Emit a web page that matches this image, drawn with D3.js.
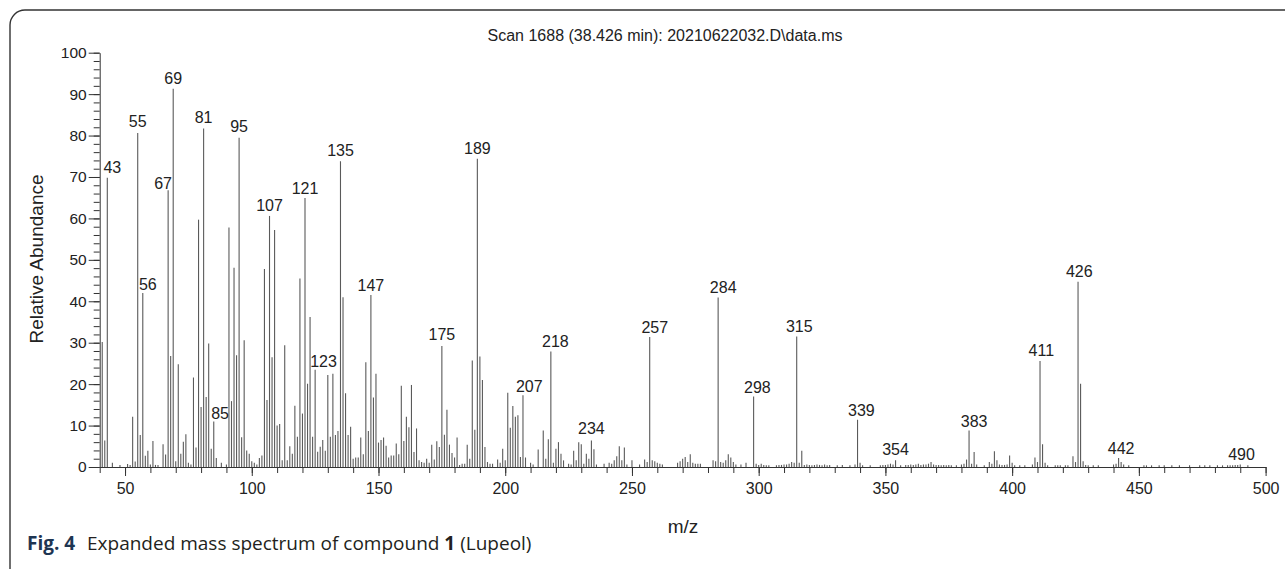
<!DOCTYPE html>
<html>
<head>
<meta charset="utf-8">
<script src="https://cdn.jsdelivr.net/npm/d3@7"></script>
<style>
  body { margin: 0; background: #fff; }
  svg { display: block; }
</style>
</head>
<body>
<script>
// m/z of every stick, grouped by 20 mass units
const mz = [
  41, 42, 43, 45, 48, 51, 52, 53, 54, 55, 56, 57, 58, 59,
  60, 61, 62, 63, 65, 66, 67, 68, 69, 70, 71, 72, 73, 74, 75, 76, 77, 78, 79,
  80, 81, 82, 83, 84, 85, 86, 88, 90, 91, 92, 93, 94, 95, 96, 97, 98, 99,
  100, 101, 102, 103, 104, 105, 106, 107, 108, 109, 110, 111, 112, 113, 114, 115, 116, 117, 118, 119,
  120, 121, 122, 123, 124, 125, 126, 127, 128, 129, 130, 131, 132, 133, 134, 135, 136, 137, 138, 139,
  140, 141, 142, 143, 144, 145, 146, 147, 148, 149, 150, 151, 152, 153, 154, 155, 156, 157, 158, 159,
  160, 161, 162, 163, 164, 165, 166, 167, 168, 169, 170, 171, 172, 173, 174, 175, 176, 177, 178, 179,
  180, 181, 182, 183, 184, 185, 186, 187, 188, 189, 190, 191, 192, 193, 194, 195, 197, 198, 199,
  200, 201, 202, 203, 204, 205, 206, 207, 208, 210, 211, 213, 215, 216, 217, 218, 219,
  220, 221, 222, 223, 225, 226, 227, 228, 229, 230, 231, 232, 233, 234, 235, 236, 239,
  241, 242, 243, 244, 245, 246, 247, 248, 250, 253, 255, 256, 257, 258, 259,
  260, 261, 262, 268, 269, 270, 271, 272, 273, 274, 275, 276, 277,
  282, 283, 284, 285, 286, 287, 288, 289, 290, 291, 293, 295, 298, 299,
  300, 301, 302, 303, 304, 307, 308, 309, 310, 311, 312, 313, 314, 315, 316, 317, 318, 319,
  320, 321, 322, 323, 324, 325, 326, 327, 328, 331, 333, 336, 338, 339,
  340, 341, 344, 348, 349, 350, 351, 352, 353, 354, 356, 358, 359,
  360, 361, 362, 363, 364, 365, 366, 367, 368, 369, 370, 371, 372, 373, 374, 375, 376, 378,
  380, 381, 382, 383, 384, 385, 386, 389, 391, 392, 393, 394, 395, 396, 397, 398, 399,
  400, 401, 403, 405, 408, 409, 410, 411, 412, 413, 414, 417, 418, 419,
  421, 422, 424, 425, 426, 427, 428, 429, 430, 432, 434,
  440, 441, 442, 443, 444, 446, 452, 453, 455, 458,
  460, 463, 466, 470, 474, 476, 478,
  481, 483, 485, 486, 487, 488, 489, 490, 493
];

// relative abundance (%), same order as mz
const abundance = [
  30.2, 6.4, 69.8, 1.0, 0.5, 0.7, 0.5, 12.1, 1.3, 80.6, 7.7, 42.0, 2.7, 3.9,
  0.6, 6.3, 0.5, 0.5, 5.5, 3.0, 66.8, 26.8, 91.3, 1.4, 24.8, 3.2, 6.1, 7.9, 1.0, 0.6, 21.6, 4.7, 59.7,
  14.5, 81.7, 16.9, 29.8, 4.4, 11.0, 2.2, 1.0, 0.6, 57.8, 15.9, 48.1, 27.0, 79.5, 7.2, 30.6, 4.0, 3.2,
  1.4, 1.0, 0.6, 2.2, 2.8, 47.8, 16.2, 60.6, 26.5, 57.2, 10.0, 10.4, 1.6, 29.4, 1.6, 5.0, 3.2, 14.8, 7.3, 45.5,
  12.9, 64.9, 20.1, 36.2, 7.3, 23.5, 3.7, 4.9, 6.5, 3.9, 22.2, 7.3, 22.5, 7.7, 8.7, 73.8, 41.0, 17.8, 7.7, 9.7,
  2.0, 2.3, 2.3, 7.1, 3.1, 25.3, 8.7, 41.5, 16.8, 22.5, 5.9, 6.5, 7.1, 5.1, 2.3, 2.8, 2.8, 5.7, 3.1, 19.6,
  6.3, 12.1, 9.6, 19.8, 3.6, 9.3, 1.6, 1.2, 1.0, 2.0, 1.0, 5.4, 1.8, 6.2, 4.8, 29.2, 7.8, 13.8, 5.4, 3.4,
  2.3, 7.1, 0.5, 0.8, 0.8, 5.4, 2.0, 25.7, 9.0, 74.4, 26.7, 21.0, 4.8, 1.2, 0.8, 0.8, 1.8, 1.0, 4.4,
  1.6, 17.9, 9.5, 14.7, 12.1, 12.5, 2.4, 17.3, 2.3, 1.0, 0.6, 4.2, 8.8, 2.0, 6.7, 27.9, 1.0,
  4.4, 6.0, 3.2, 1.6, 0.8, 0.6, 3.9, 1.6, 6.0, 5.5, 0.8, 3.2, 2.0, 6.4, 4.3, 0.6, 0.8,
  1.0, 0.8, 1.6, 2.6, 5.0, 1.6, 4.7, 0.6, 1.6, 0.6, 1.8, 1.2, 31.4, 1.6, 1.4,
  1.0, 0.8, 0.6, 1.0, 1.4, 2.0, 2.4, 1.2, 3.1, 1.0, 0.8, 0.8, 0.8,
  1.6, 1.4, 40.9, 1.2, 1.0, 1.6, 3.1, 2.3, 1.2, 0.6, 0.6, 1.0, 17.0, 0.8,
  0.5, 0.8, 0.5, 0.4, 0.4, 0.4, 0.5, 0.5, 0.6, 0.6, 0.8, 1.2, 1.0, 31.5, 1.0, 3.9, 0.5, 0.6,
  0.5, 0.4, 0.5, 0.6, 0.5, 0.4, 0.6, 0.4, 0.5, 0.4, 0.5, 0.4, 0.6, 11.4,
  1.0, 0.4, 0.4, 0.4, 0.5, 0.5, 0.6, 0.8, 0.6, 1.6, 0.4, 0.5, 0.5,
  0.6, 0.5, 0.6, 0.8, 0.5, 0.6, 0.6, 0.8, 1.2, 0.6, 0.5, 0.5, 0.4, 0.5, 0.4, 0.5, 0.4, 0.4,
  0.6, 0.8, 1.8, 8.8, 0.8, 3.6, 0.6, 0.4, 1.2, 0.8, 3.8, 1.6, 0.6, 0.5, 0.5, 0.6, 2.8,
  1.0, 0.4, 0.4, 0.4, 0.6, 2.3, 1.2, 25.6, 5.5, 1.0, 0.4, 0.4, 0.4, 0.4,
  0.4, 0.4, 2.6, 1.2, 44.7, 20.1, 1.4, 0.5, 0.4, 0.4, 0.4,
  0.6, 0.8, 2.2, 1.2, 0.6, 0.4, 0.4, 0.4, 0.4, 0.4,
  0.4, 0.4, 0.4, 0.4, 0.4, 0.4, 0.4,
  0.4, 0.4, 0.4, 0.4, 0.4, 0.5, 0.5, 0.6, 0.4
];

const xTicks = [50, 100, 150, 200, 250, 300, 350, 400, 450, 500];
const yTicks = [0, 10, 20, 30, 40, 50, 60, 70, 80, 90, 100];

// peak annotations: text, m/z where the text is centred, abundance of its baseline
const labelText = ['43', '55', '56', '67', '69', '81', '85', '95', '107', '121', '123', '135', '147', '175', '189',
  '207', '218', '234', '257', '284', '298', '315', '339', '354', '383', '411', '426', '442', '490'];
const labelX = [45, 55, 59, 65, 69, 81, 87.5, 95, 107, 121, 128.3, 135, 147, 175, 189,
  209.5, 219.8, 234, 259, 286, 299.5, 316, 340.5, 354, 385, 411.5, 426.5, 443, 490.5];
const labelY = [71.0, 82.0, 42.7, 67.0, 92.4, 83.0, 11.7, 80.9, 61.7, 66.0, 24.1, 75.1, 42.6, 30.6, 75.6,
  18.2, 29.0, 7.9, 32.4, 42.1, 17.9, 32.5, 12.4, 2.8, 9.6, 26.8, 45.9, 3.2, 1.8];

const chartTitle = 'Scan 1688 (38.426 min): 20210622032.D\\data.ms';

document.addEventListener('DOMContentLoaded', () => {
  drawSpectrum();
});

const drawSpectrum = () => {
  const width = 1285, height = 569;
  const font = '"Liberation Sans", Arial, Helvetica, sans-serif';

  const svg = d3.select('body')
    .append('svg')
    .attr('width', width)
    .attr('height', height)
    .attr('font-family', font);

  // figure box: rounded top-left corner, open at the bottom and right
  svg.append('path')
    .attr('d', 'M10,580 V25 A15,15 0 0 1 25,10 H1295')
    .attr('fill', 'none')
    .attr('stroke', '#333')
    .attr('stroke-width', 1.4);

  const xScale = d3.scaleLinear()
    .domain([40, 500])
    .range([99.7, 1265.6]);

  const yScale = d3.scaleLinear()
    .domain([0, 100])
    .range([467, 52.7]);

  // sticks
  svg.append('g')
    .attr('id', 'sticks')
    .attr('stroke', '#5a5a5a')
    .attr('stroke-width', 1.1)
    .selectAll('line')
    .data(d3.zip(mz, abundance))
    .join('line')
    .attr('x1', d => xScale(d[0]))
    .attr('x2', d => xScale(d[0]))
    .attr('y1', yScale(0))
    .attr('y2', d => yScale(d[1]));

  // x axis: minor ticks every 10, labelled ticks every 50
  svg.append('g')
    .attr('transform', `translate(0, ${yScale(0)})`)
    .call(d3.axisBottom(xScale)
      .tickValues(d3.range(40, 501, 10))
      .tickSize(6)
      .tickSizeOuter(0)
      .tickFormat(''))
    .call(g => g.selectAll('path, line').attr('stroke', '#333'));

  svg.append('g')
    .attr('transform', `translate(0, ${yScale(0)})`)
    .call(d3.axisBottom(xScale)
      .tickValues(xTicks)
      .tickSize(9)
      .tickPadding(7))
    .call(g => g.select('.domain').remove())
    .call(g => g.selectAll('line').attr('stroke', '#333'))
    .call(g => g.selectAll('text')
      .attr('font-family', font)
      .attr('font-size', 16)
      .attr('fill', '#222'));

  // y axis: minor ticks every 2, labelled ticks every 10
  svg.append('g')
    .attr('transform', `translate(${xScale(40)}, 0)`)
    .call(d3.axisLeft(yScale)
      .tickValues(d3.range(0, 101, 2))
      .tickSize(6)
      .tickSizeOuter(0)
      .tickFormat(''))
    .call(g => g.selectAll('path, line').attr('stroke', '#333'));

  svg.append('g')
    .attr('transform', `translate(${xScale(40)}, 0)`)
    .call(d3.axisLeft(yScale)
      .tickValues(yTicks)
      .tickSize(11)
      .tickPadding(2))
    .call(g => g.select('.domain').remove())
    .call(g => g.selectAll('line').attr('stroke', '#333'))
    .call(g => g.selectAll('text')
      .attr('font-family', font)
      .attr('font-size', 15.5)
      .attr('fill', '#222'));

  // peak labels
  svg.append('g')
    .attr('font-size', 16)
    .attr('fill', '#222')
    .attr('text-anchor', 'middle')
    .selectAll('text')
    .data(labelText)
    .join('text')
    .attr('x', (d, i) => xScale(labelX[i]))
    .attr('y', (d, i) => yScale(labelY[i]))
    .text(d => d);

  svg.append('text')
    .attr('x', 665)
    .attr('y', 41)
    .attr('text-anchor', 'middle')
    .attr('font-size', 16)
    .attr('fill', '#222')
    .text(chartTitle);

  svg.append('text')
    .attr('transform', 'translate(43, 259) rotate(-90)')
    .attr('text-anchor', 'middle')
    .attr('font-size', 19)
    .attr('fill', '#222')
    .text('Relative Abundance');

  svg.append('text')
    .attr('x', 683)
    .attr('y', 533)
    .attr('text-anchor', 'middle')
    .attr('font-size', 19)
    .attr('fill', '#222')
    .text('m/z');

  // caption
  const caption = svg.append('text')
    .attr('x', 27)
    .attr('y', 550)
    .attr('font-family', '"Open Sans", "Noto Sans", sans-serif')
    .attr('font-size', 19)
    .attr('fill', '#231f20');

  caption.append('tspan')
    .attr('font-weight', 'bold')
    .attr('fill', '#1e3552')
    .text('Fig. 4');

  caption.append('tspan')
    .attr('x', 87)
    .text('Expanded mass spectrum of compound ');

  caption.append('tspan')
    .attr('font-weight', 'bold')
    .text('1');

  caption.append('tspan')
    .text(' (Lupeol)');
};
</script>
</body>
</html>
